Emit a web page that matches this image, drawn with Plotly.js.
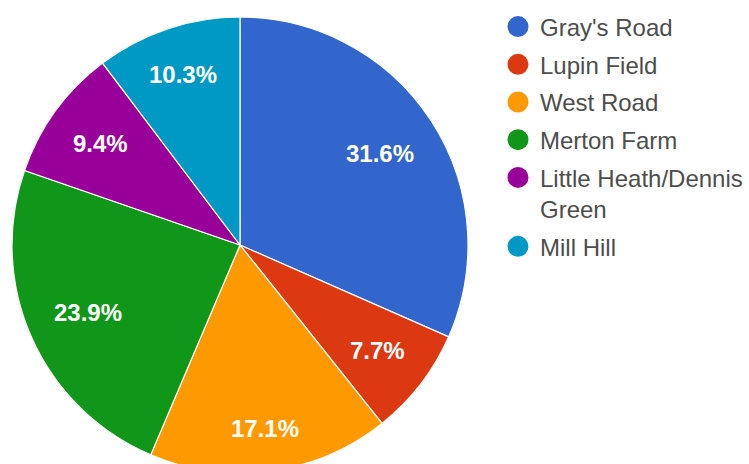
<!DOCTYPE html>
<html>
<head>
<meta charset="utf-8">
<script src="https://cdn.plot.ly/plotly-3.0.1.min.js"></script>
<style>
html,body{margin:0;padding:0;overflow:hidden;background:#fff;width:749px;height:464px;}
#chart{width:749px;height:490px;}
</style>
</head>
<body>
<div id="chart"></div>
<script>
const categories = ["Gray's Road", "Lupin Field", "West Road", "Merton Farm", "Little Heath/Dennis<br>Green", "Mill Hill"];
const shares = [31.6, 7.7, 17.1, 23.9, 9.4, 10.3];
const colors = ["#3366cc", "#dc3912", "#ff9900", "#109618", "#990099", "#0099c6"];

const W = 749, H = 490;
const FONT = 'Liberation Sans, Arial, sans-serif';
const pieDomain = {x: [12 / W, 468 / W], y: [17 / H, 473 / H]};

const pie = {
  type: 'pie',
  labels: categories,
  values: shares,
  sort: false,
  direction: 'clockwise',
  rotation: 0,
  marker: {colors: colors, line: {color: '#ffffff', width: 1.2}},
  textinfo: 'none',
  showlegend: false,
  hoverinfo: 'label+percent',
  domain: pieDomain
};
const legendTraces = categories.map((c, i) => ({
  type: 'scatter', mode: 'markers', x: [null], y: [null], name: c,
  legendgroup: 'g' + i,
  marker: {color: colors[i], size: 16, symbol: 'circle', line: {color: colors[i], width: 6}},
  showlegend: true, hoverinfo: 'skip'
}));

// Percentage labels placed along each slice bisector (Google-Charts-style placement)
const cx = (pieDomain.x[0] + pieDomain.x[1]) / 2 * W;
const cyPaper = (pieDomain.y[0] + pieDomain.y[1]) / 2;
const R = (pieDomain.x[1] - pieDomain.x[0]) * W / 2;
const ctx = document.createElement('canvas').getContext('2d');
ctx.font = 'bold 24px "Liberation Sans", Arial, sans-serif';
const total = shares.reduce((a, b) => a + b, 0);
let cum = 0;
const annotations = shares.map((v) => {
  const mid = (cum + v / 2) / total * 2 * Math.PI;
  cum += v;
  const txt = (v / total * 100).toFixed(1) + '%';
  const hw = ctx.measureText(txt).width / 2, hh = 12;
  const dx = Math.sin(mid), dy = Math.cos(mid);
  const r = 0.886 * R - (hw * Math.abs(dx) + hh * Math.abs(dy));
  return {
    xref: 'paper', yref: 'paper',
    x: (cx + r * dx) / W, y: cyPaper + r * dy / H,
    xanchor: 'center', yanchor: 'middle', showarrow: false,
    text: '<b>' + txt + '</b>',
    font: {family: FONT, size: 24, color: '#ffffff'}
  };
});

Plotly.newPlot('chart', [pie].concat(legendTraces), {
  width: W, height: H,
  margin: {l: 0, r: 0, t: 0, b: 0},
  paper_bgcolor: '#ffffff', plot_bgcolor: '#ffffff',
  xaxis: {visible: false}, yaxis: {visible: false},
  showlegend: true,
  annotations: annotations,
  legend: {
    x: 496 / W, y: 1 - 4.5 / H, xanchor: 'left', yanchor: 'top',
    font: {family: FONT, size: 24, color: '#4d4d4d'},
    valign: 'top', tracegroupgap: 3.5, bgcolor: 'rgba(0,0,0,0)', itemsizing: 'trace',
    itemwidth: 34
  }
}, {displayModeBar: false, staticPlot: true});
</script>
</body>
</html>
